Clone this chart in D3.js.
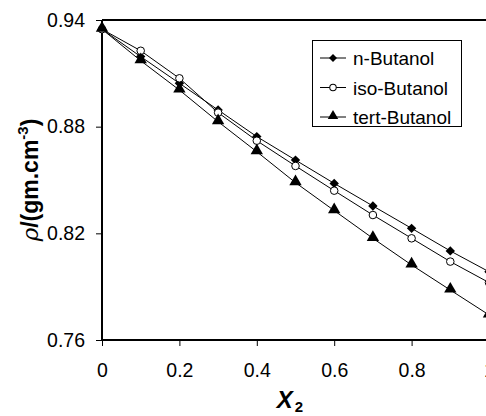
<!DOCTYPE html>
<html>
<head>
<meta charset="utf-8">
<script src="https://cdn.jsdelivr.net/npm/d3@7"></script>
<style>
  body { margin: 0; background: #fff; }
  text { font-family: "Liberation Sans", Arial, sans-serif; fill: #000; }
</style>
</head>
<body>
<div id="chart"></div>
<script>
var xValues = [0, 0.1, 0.2, 0.3, 0.4, 0.5, 0.6, 0.7, 0.8, 0.9, 1.0];
var nButanol = [0.9348, 0.9194, 0.9044, 0.8894, 0.8744, 0.8612, 0.8481, 0.8354, 0.8228, 0.8101, 0.7984];
var isoButanol = [0.9348, 0.9227, 0.9072, 0.8879, 0.8721, 0.8579, 0.8440, 0.8303, 0.8172, 0.8041, 0.7923];
var tertButanol = [0.9348, 0.9171, 0.9006, 0.8828, 0.8659, 0.8485, 0.8328, 0.8172, 0.8022, 0.7881, 0.7741];
var seriesNames = ["n-Butanol", "iso-Butanol", "tert-Butanol"];
var xTicks = [0, 0.2, 0.4, 0.6, 0.8, 1];
var yTicks = [0.76, 0.82, 0.88, 0.94];

var width = 486, height = 416;
var plotLeft = 102, plotRight = 489, plotTop = 20, plotBottom = 340;

var svg = d3.select("#chart")
    .append("svg")
    .attr("width", width)
    .attr("height", height);

var x = d3.scaleLinear().domain([0, 1]).range([plotLeft, plotRight]);
var y = d3.scaleLinear().domain([0.76, 0.94]).range([plotBottom, plotTop]);

// top frame line
svg.append("line")
    .attr("x1", plotLeft).attr("x2", plotRight)
    .attr("y1", plotTop).attr("y2", plotTop)
    .attr("stroke", "#000").attr("stroke-width", 2);

// axes
var xAxis = svg.append("g")
    .attr("transform", "translate(0," + plotBottom + ")")
    .call(d3.axisBottom(x).tickValues(xTicks).tickSize(6).tickPadding(17)
        .tickFormat(function (d) { return d === 0 ? "0" : d === 1 ? "1" : d3.format(".1f")(d); }));
var yAxis = svg.append("g")
    .attr("transform", "translate(" + plotLeft + ",0)")
    .call(d3.axisLeft(y).tickValues(yTicks).tickSize(6).tickPadding(11)
        .tickFormat(d3.format(".2f")));

[xAxis, yAxis].forEach(function (g) {
    g.select(".domain").attr("stroke-width", 2).attr("stroke", "#000");
    g.selectAll(".tick line").attr("stroke", "#000").attr("stroke-width", 1);
    g.selectAll("text")
        .style("font-family", "'Liberation Sans', Arial, sans-serif")
        .style("font-size", "19.5px")
        .attr("fill", "#000");
});
xAxis.select(".domain").attr("d", "M" + plotLeft + ",0H" + plotRight);
yAxis.select(".domain").attr("d", "M0," + plotTop + "V" + plotBottom);

// lines
var line = d3.line()
    .x(function (d, i) { return x(xValues[i]); })
    .y(function (d) { return y(d); });

var allSeries = [nButanol, isoButanol, tertButanol];
allSeries.forEach(function (s) {
    svg.append("path")
        .datum(s)
        .attr("fill", "none")
        .attr("stroke", "#000")
        .attr("stroke-width", 1)
        .attr("d", line);
});

// square diamond (rotated square), circle, triangle
var diamond = d3.symbol().type(d3.symbolSquare).size(44);
var circle = d3.symbol().type(d3.symbolCircle).size(45);
var triangle = d3.symbol().type(d3.symbolTriangle).size(66);

function drawMarker(g, kind, cx, cy, scale) {
    var s = scale || 1;
    if (kind === 0) {
        g.append("path").attr("d", diamond())
            .attr("transform", "translate(" + cx + "," + cy + ") rotate(45) scale(" + s + ")")
            .attr("fill", "#000");
    } else if (kind === 1) {
        g.append("path").attr("d", circle())
            .attr("transform", "translate(" + cx + "," + cy + ") scale(" + s + ")")
            .attr("fill", "#fff").attr("stroke", "#000").attr("stroke-width", 1 / s);
    } else {
        g.append("path").attr("d", triangle())
            .attr("transform", "translate(" + cx + "," + (cy - 1) + ") scale(" + s + ")")
            .attr("fill", "#000");
    }
}

var marks = svg.append("g");
allSeries.forEach(function (s, k) {
    s.forEach(function (v, i) {
        drawMarker(marks, k, x(xValues[i]), y(v));
    });
});

// legend
var legend = svg.append("g");
legend.append("rect")
    .attr("x", 312.5).attr("y", 40.5)
    .attr("width", 149).attr("height", 86)
    .attr("fill", "#fff").attr("stroke", "#000").attr("stroke-width", 1);
seriesNames.forEach(function (name, k) {
    var ly = 58 + k * 29.5;
    legend.append("line")
        .attr("x1", 320).attr("x2", 346)
        .attr("y1", ly).attr("y2", ly)
        .attr("stroke", "#000").attr("stroke-width", 1);
    drawMarker(legend, k, 333, ly, 0.85);
    legend.append("text")
        .attr("x", 353).attr("y", ly + 7)
        .style("font-size", "19px")
        .text(name);
});

// axis titles
var yt = svg.append("text")
    .attr("transform", "translate(38,180) rotate(-90)")
    .attr("text-anchor", "middle")
    .style("font-size", "23px")
    .style("font-weight", "bold");
yt.append("tspan").style("font-style", "italic").style("font-weight", "normal")
    .style("font-family", "'DejaVu Serif', serif").text("\u03c1");
yt.append("tspan").text("/(gm.cm");
yt.append("tspan").attr("dy", -10).style("font-size", "15px").text("-3");
yt.append("tspan").attr("dy", 10).text(")");

var xt = svg.append("text")
    .attr("x", 290).attr("y", 408)
    .attr("text-anchor", "middle")
    .style("font-size", "24px")
    .style("font-weight", "bold")
    .style("font-style", "italic");
xt.append("tspan").text("X");
xt.append("tspan").attr("dx", 2).attr("dy", 4).style("font-size", "15px").style("font-style", "normal").text("2");
</script>
</body>
</html>
